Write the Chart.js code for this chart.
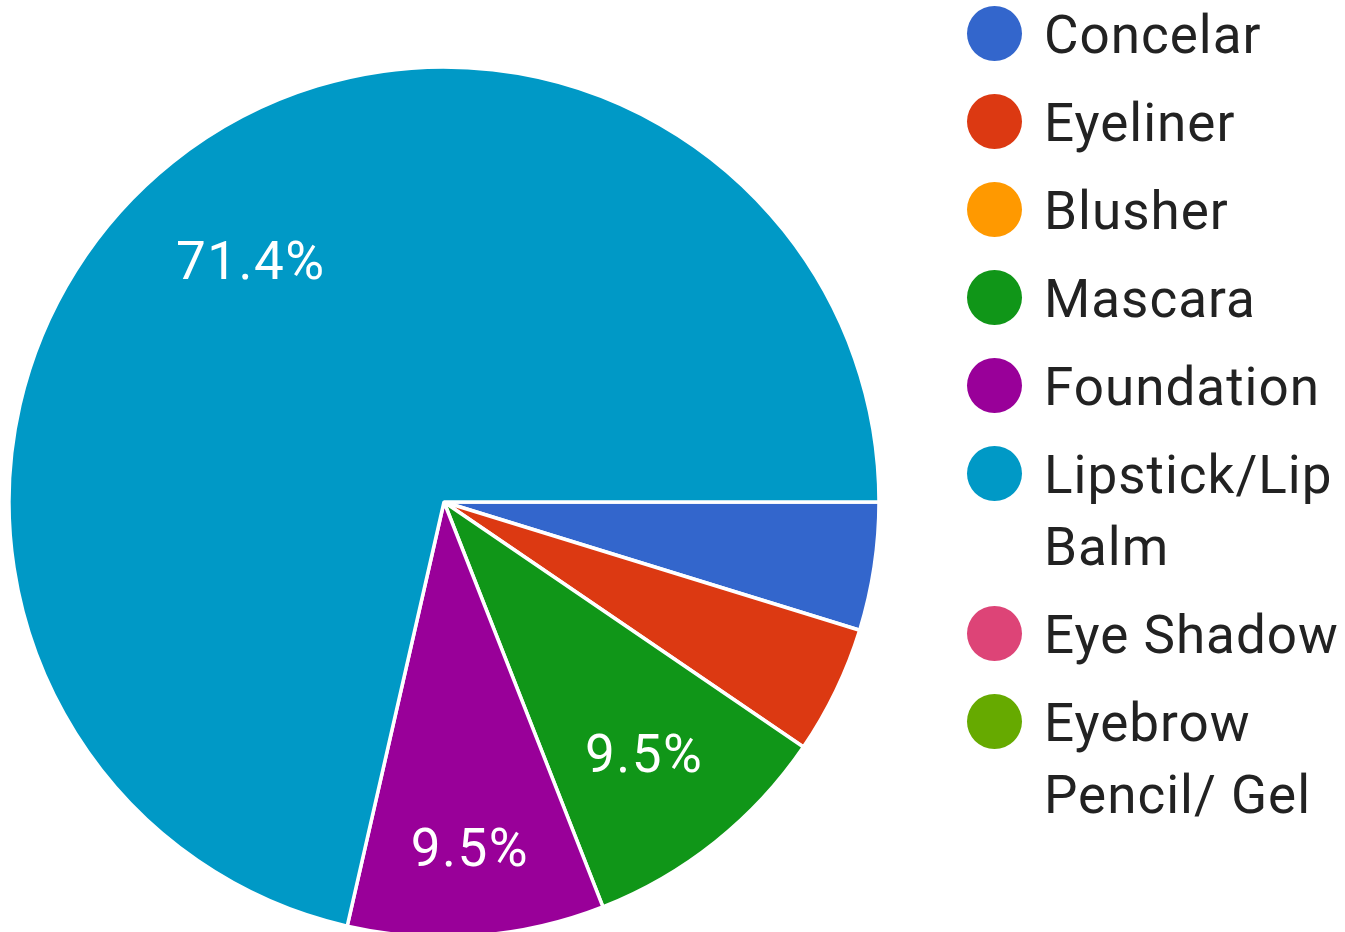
<!DOCTYPE html>
<html lang="en">
<head>
    <meta charset="UTF-8">
    <title>Makeup products</title>
    <script src="https://cdn.jsdelivr.net/npm/chart.js"></script>
    <style>
        html, body { margin: 0; padding: 0; background: #fff; overflow: hidden; }
        #wrap { position: relative; width: 1345px; height: 932px; }
        #pieBox { position: absolute; left: 0; top: 0; width: 888px; height: 1004px; }
        #legend {
            position: absolute; left: 967px; top: -1px; width: 378px;
            list-style: none; margin: 0; padding: 0;
            font-family: Roboto, sans-serif; font-size: 53px; line-height: 72px; color: #222;
            letter-spacing: 1px;
        }
        #legend li { position: relative; padding-left: 77px; margin-bottom: 16px; width: 300px; }
        #legend .dot {
            position: absolute; left: 0; top: 7px;
            width: 55px; height: 55px; border-radius: 50%;
        }
    </style>
</head>
<body>
<div id="wrap">
    <div id="pieBox"><canvas id="pie" width="888" height="1004"></canvas></div>
    <ul id="legend"></ul>
</div>

<script>
    // survey answers: which product do you use most
    const products = ['Concelar', 'Eyeliner', 'Blusher', 'Mascara', 'Foundation', 'Lipstick/Lip Balm', 'Eye Shadow', 'Eyebrow Pencil/ Gel'];
    const responses = [1, 1, 0, 2, 2, 15, 0, 0];
    const colors = ['#3366cc', '#dc3912', '#ff9900', '#109618', '#990099', '#0099c6', '#dd4477', '#66aa00'];

    // percentage text inside the larger slices
    const sliceLabels = {
        id: 'sliceLabels',
        afterDatasetsDraw(chart) {
            const ctx = chart.ctx;
            const meta = chart.getDatasetMeta(0);
            const data = chart.data.datasets[0].data;
            const total = data.reduce((a, b) => a + b, 0);
            const size = 53;
            const capH = size * 0.711;
            ctx.save();
            ctx.font = size + 'px Roboto, sans-serif';
            ctx.letterSpacing = '1.5px';
            ctx.fillStyle = '#ffffff';
            ctx.textAlign = 'center';
            ctx.textBaseline = 'alphabetic';
            meta.data.forEach((arc, i) => {
                const share = data[i] / total;
                if (share < 0.08) return;
                const text = (share * 100).toFixed(1) + '%';
                const w = ctx.measureText(text).width;
                const mid = (arc.startAngle + arc.endAngle) / 2;
                const ux = Math.cos(mid), uy = Math.sin(mid);
                // push the box out until its far corner sits at 86% of the radius
                const sx = Math.sign(ux) * w / 2, sy = Math.sign(uy) * capH / 2;
                const us = ux * sx + uy * sy;
                const R = arc.outerRadius * 0.86;
                const d = -us + Math.sqrt(us * us - (sx * sx + sy * sy) + R * R);
                ctx.fillText(text, arc.x + ux * d, arc.y + uy * d + capH / 2);
            });
            ctx.restore();
        }
    };

    const chart = new Chart(document.getElementById('pie'), {
        type: 'pie',
        data: {
            labels: products,
            datasets: [{
                data: responses,
                backgroundColor: colors,
                borderColor: '#ffffff',
                borderWidth: 3.5,
                hoverOffset: 0,
                radius: 435
            }]
        },
        options: {
            responsive: false,
            animation: false,
            rotation: 90,
            layout: { padding: 0 },
            plugins: {
                legend: { display: false },
                tooltip: { enabled: false }
            }
        },
        plugins: [sliceLabels]
    });

    // legend on the right, built from the chart's own labels
    const legendEl = document.getElementById('legend');
    chart.options.plugins.legend.labels.generateLabels(chart).forEach(item => {
        const li = document.createElement('li');
        const dot = document.createElement('span');
        dot.className = 'dot';
        dot.style.background = item.fillStyle;
        li.appendChild(dot);
        li.appendChild(document.createTextNode(item.text));
        legendEl.appendChild(li);
    });
</script>
</body>
</html>
